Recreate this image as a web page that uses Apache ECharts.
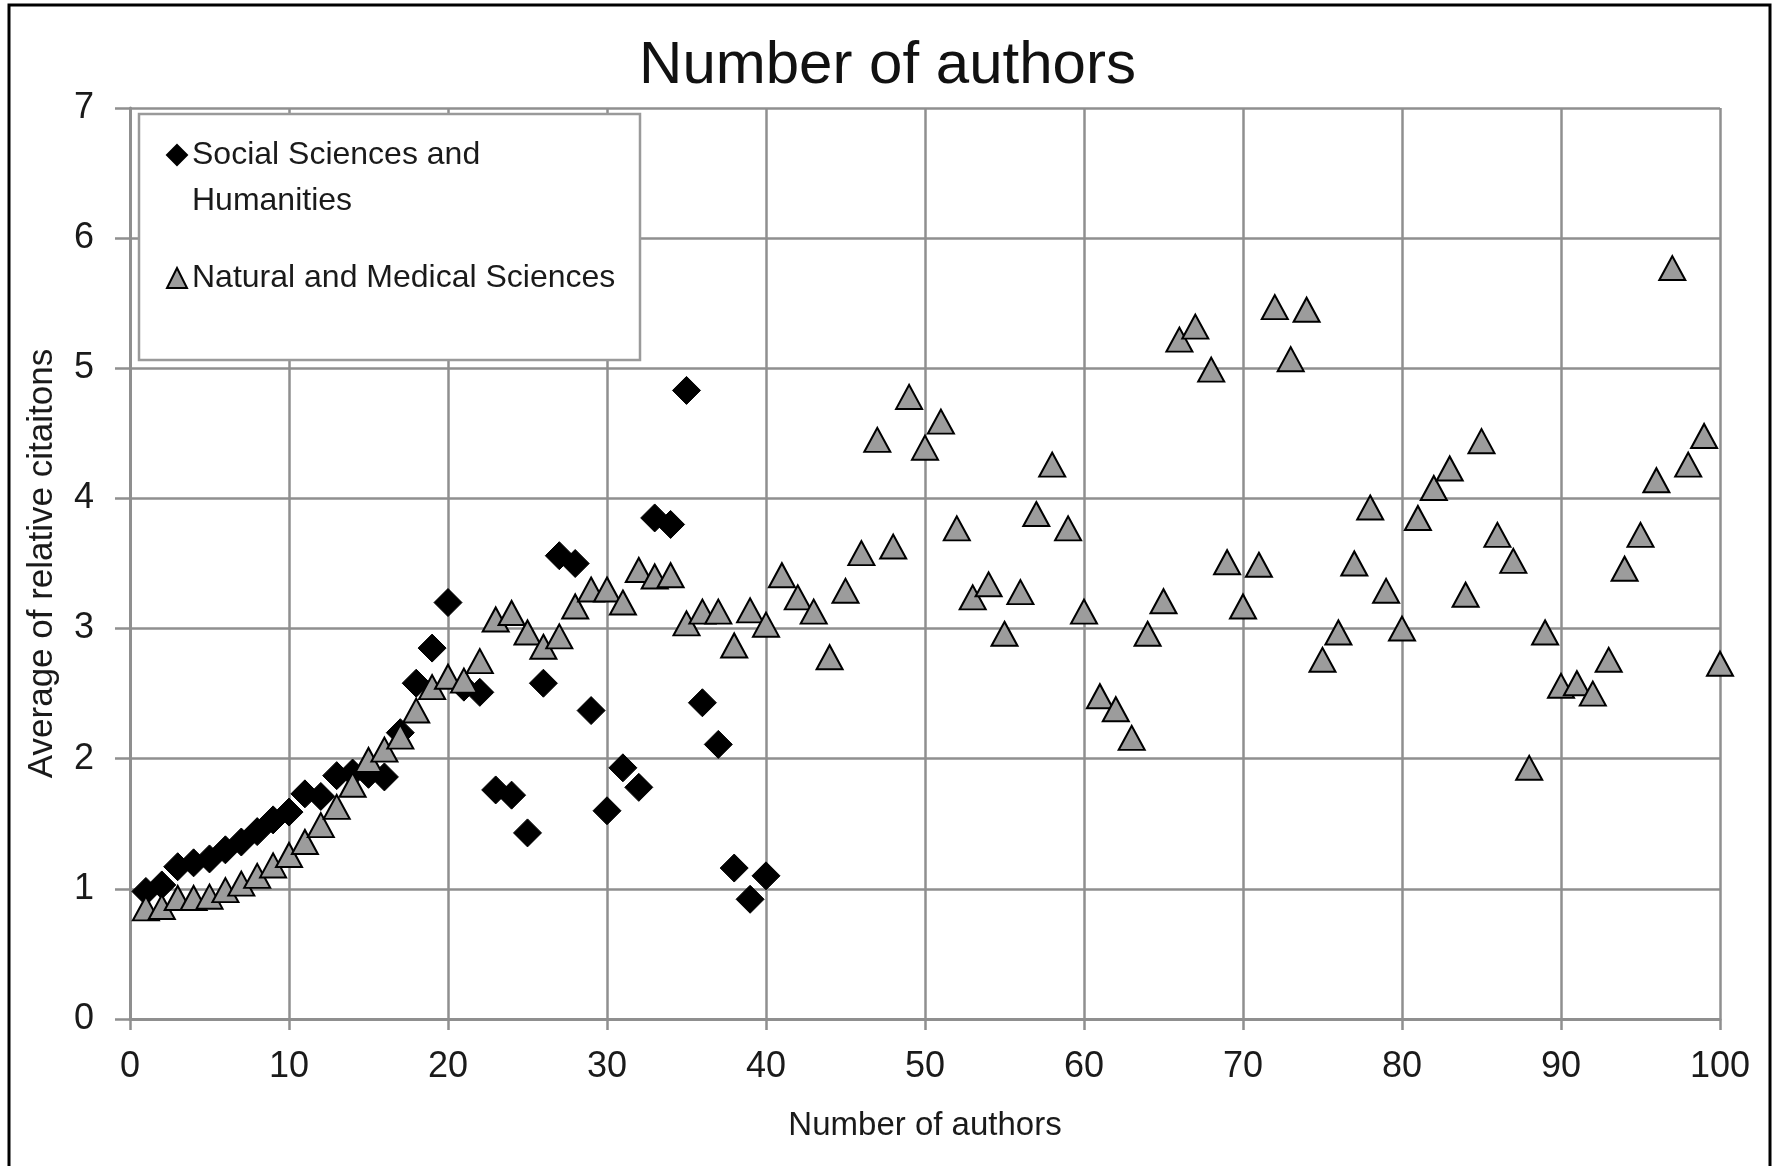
<!DOCTYPE html>
<html>
<head>
<meta charset="utf-8">
<script src="https://cdn.jsdelivr.net/npm/echarts@6/dist/echarts.min.js"></script>
<style>
html,body{margin:0;padding:0;background:#fff;}
#chart{width:1775px;height:1166px;}
</style>
</head>
<body>
<div id="chart"></div>
<script>
// ---- data ----
var socialX = [1,2,3,4,5,6,7,8,9,10,11,12,13,14,15,16,17,18,19,20,21,22,23,24,25,26,27,28,29,30,31,32,33,34,35,36,37,38,39,40];
var socialY = [0.98,1.03,1.17,1.20,1.23,1.30,1.36,1.44,1.53,1.59,1.73,1.71,1.87,1.89,1.88,1.86,2.20,2.58,2.85,3.20,2.55,2.51,1.76,1.72,1.43,2.58,3.56,3.50,2.37,1.60,1.93,1.78,3.85,3.80,4.83,2.43,2.11,1.16,0.92,1.10];
var naturalX = [1,2,3,4,5,6,7,8,9,10,11,12,13,14,15,16,17,18,19,20,21,22,23,24,25,26,27,28,29,30,
  31,32,33,34,35,36,37,38,39,40,41,42,43,44,45,46,47,48,49,50,51,52,53,54,55,56,57,58,59,60,
  61,62,63,64,65,66,67,68,69,70,71,72,73,74,75,76,77,78,79,80,81,82,83,84,85,86,87,88,89,90,
  91,92,93,94,95,96,97,98,99,100];
var naturalY = [0.85,0.86,0.93,0.93,0.94,0.99,1.04,1.10,1.18,1.26,1.36,1.49,1.63,1.80,1.99,2.07,2.17,2.37,2.55,2.63,2.60,2.75,
  3.07,3.12,2.97,2.86,2.94,3.17,3.30,3.30,3.20,3.45,3.40,3.41,3.04,3.13,3.13,2.87,3.14,3.03,
  3.41,3.24,3.13,2.78,3.29,3.58,4.45,3.63,4.78,4.39,4.59,3.77,3.24,3.34,2.96,3.28,3.88,4.26,3.77,3.13,
  2.48,2.38,2.16,2.96,3.21,5.22,5.32,4.99,3.51,3.17,3.49,5.47,5.07,5.45,2.76,2.97,3.50,3.93,3.29,3.00,
  3.85,4.08,4.23,3.26,4.44,3.72,3.52,1.93,2.97,2.56,2.58,2.50,2.76,3.46,3.72,4.14,5.77,4.26,4.48,2.73];
var seriesNames = ['Social Sciences and Humanities', 'Natural and Medical Sciences'];
var legendLabels = ['Social Sciences and\nHumanities', 'Natural and Medical Sciences'];
var titleText = 'Number of authors';
var xAxisName = 'Number of authors';
var yAxisName = 'Average of relative citaitons';

function zip(xs, ys) { return xs.map(function (x, i) { return [x, ys[i]]; }); }

var FONT = "'Liberation Sans Narrow', 'Arial Narrow', 'Liberation Sans', Arial, sans-serif";
var GRID = '#8f8f8f';
var TXT = '#1a1a1a';

var chart = echarts.init(document.getElementById('chart'), null, {renderer: 'canvas'});
chart.setOption({
  animation: false,
  backgroundColor: '#fff',
  textStyle: {fontFamily: FONT},
  title: {
    text: titleText, left: 'center', top: 31,
    textStyle: {fontFamily: FONT, fontSize: 60, fontWeight: 'normal', color: '#111'}
  },
  grid: {left: 130, right: 55, top: 108, bottom: 147, containLabel: false},
  xAxis: {
    type: 'value', min: 0, max: 100, interval: 10,
    name: xAxisName, nameLocation: 'middle', nameGap: 90,
    nameTextStyle: {fontFamily: FONT, fontSize: 33, color: TXT},
    axisLine: {show: true, lineStyle: {color: GRID, width: 3}},
    axisTick: {show: true, length: 11, lineStyle: {color: GRID, width: 2.5}},
    axisLabel: {margin: 30, fontFamily: FONT, fontSize: 36, color: TXT},
    splitLine: {show: true, lineStyle: {color: GRID, width: 2.5}}
  },
  yAxis: {
    type: 'value', min: 0, max: 7, interval: 1,
    name: yAxisName, nameLocation: 'middle', nameGap: 70, nameRotate: 90,
    nameTextStyle: {fontFamily: FONT, fontSize: 35, color: TXT},
    axisLine: {show: true, lineStyle: {color: GRID, width: 3}},
    axisTick: {show: true, length: 15, lineStyle: {color: GRID, width: 2.5}},
    axisLabel: {margin: 36, fontFamily: FONT, fontSize: 36, color: TXT},
    splitLine: {show: true, lineStyle: {color: GRID, width: 2.5}}
  },
  legend: {
    orient: 'vertical', left: 166, top: 86, padding: 0,
    itemWidth: 20, itemHeight: 20, itemGap: 31,
    textStyle: {fontFamily: FONT, fontSize: 32, color: TXT, lineHeight: 46},
    data: [seriesNames[0], seriesNames[1]],
    formatter: function (n) {
      // blank leading line keeps the icon beside the first text line
      return n === seriesNames[0] ? ' \n' + legendLabels[0] : legendLabels[1];
    },
    z: 10
  },
  graphic: [
    {type: 'rect', z: 5, silent: true,
     shape: {x: 139, y: 114, width: 501, height: 246},
     style: {fill: '#fff', stroke: '#9a9a9a', lineWidth: 2.5}},
    {type: 'rect', z: 20, silent: true,
     shape: {x: 9, y: 5, width: 1761, height: 1300},
     style: {fill: 'none', stroke: '#000', lineWidth: 3}}
  ],
  series: [
    {
      name: seriesNames[0], type: 'scatter', z: 2,
      symbol: 'diamond', symbolSize: [28, 28],
      itemStyle: {color: '#000', borderColor: '#000', borderWidth: 1, opacity: 1},
      data: zip(socialX, socialY)
    },
    {
      name: seriesNames[1], type: 'scatter', z: 3,
      symbol: 'triangle', symbolSize: [26, 24],
      itemStyle: {color: '#9c9c9c', borderColor: '#000', borderWidth: 2, opacity: 1},
      data: zip(naturalX, naturalY)
    }
  ]
});
</script>
</body>
</html>
